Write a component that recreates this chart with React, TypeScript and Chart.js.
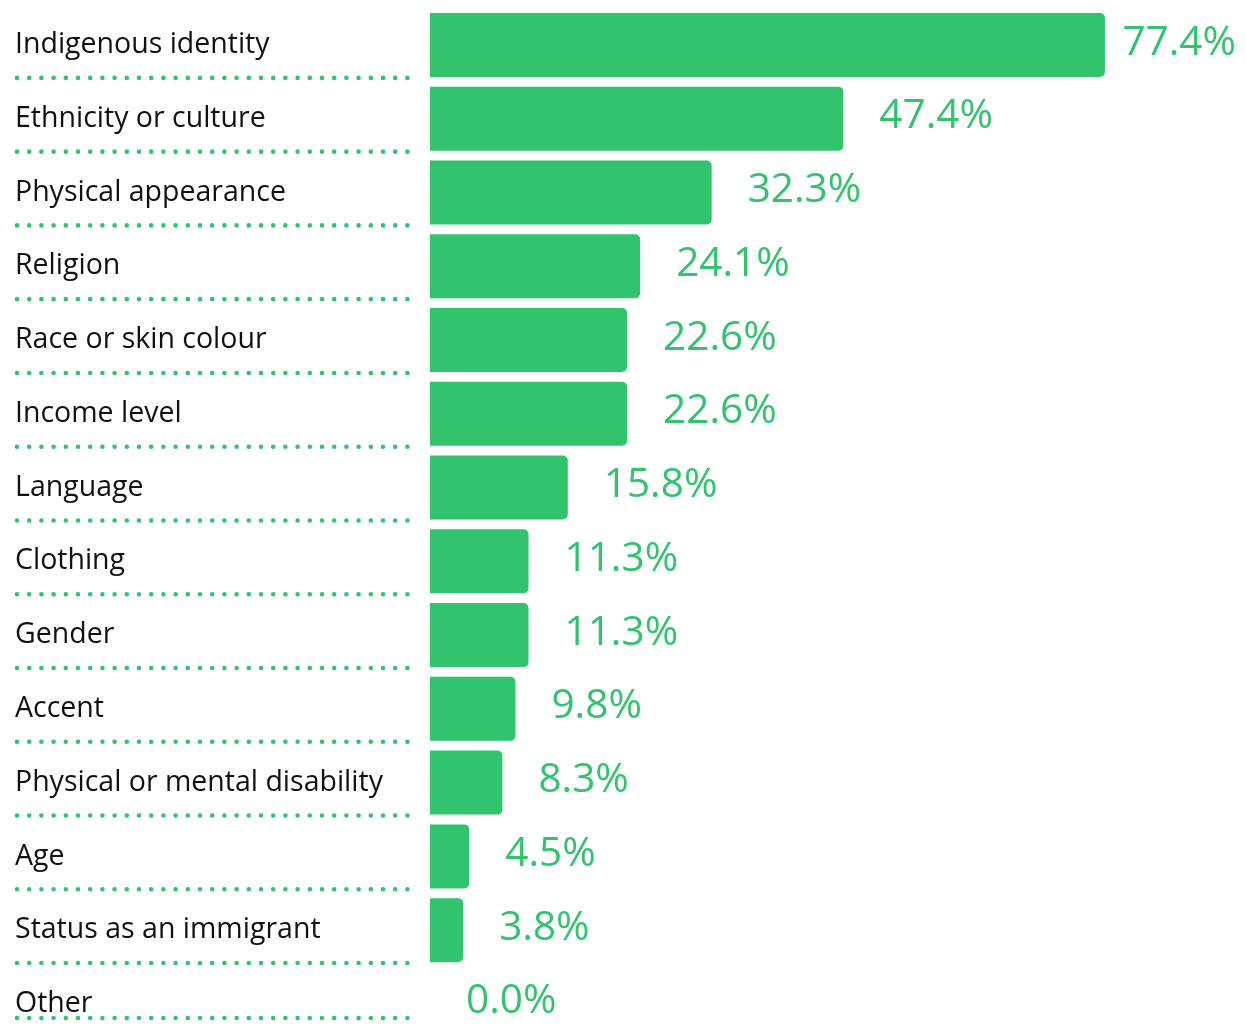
import React, { useEffect, useRef } from "react";
import { Chart, registerables } from "chart.js";

Chart.register(...registerables);

const categories = [
  "Indigenous identity",
  "Ethnicity or culture",
  "Physical appearance",
  "Religion",
  "Race or skin colour",
  "Income level",
  "Language",
  "Clothing",
  "Gender",
  "Accent",
  "Physical or mental disability",
  "Age",
  "Status as an immigrant",
  "Other",
];

const percentages = [77.4, 47.4, 32.3, 24.1, 22.6, 22.6, 15.8, 11.3, 11.3, 9.8, 8.3, 4.5, 3.8, 0.0];

const GREEN = "#32c36f";
const FONT = "'Open Sans', 'Noto Sans', sans-serif";

const dottedLines = {
  id: "dottedLines",
  afterDraw(chart: any) {
    const { ctx } = chart;
    const y = chart.scales.y;
    const half = (y.getPixelForValue(1) - y.getPixelForValue(0)) / 2;
    ctx.save();
    ctx.strokeStyle = GREEN;
    ctx.lineWidth = 4.6;
    ctx.lineCap = "round";
    ctx.setLineDash([0, 12.2]);
    for (let i = 0; i < categories.length; i++) {
      let py = y.getPixelForValue(i) + half - 4;
      py = Math.min(py, chart.height - 3);
      ctx.beginPath();
      ctx.moveTo(9, py);
      ctx.lineTo(400, py);
      ctx.stroke();
    }
    ctx.restore();
  },
};

const valueLabels = {
  id: "valueLabels",
  afterDatasetsDraw(chart: any) {
    const { ctx, chartArea } = chart;
    const meta = chart.getDatasetMeta(0);
    ctx.save();
    ctx.font = `40.5px ${FONT}`;
    ctx.fillStyle = GREEN;
    ctx.textAlign = "left";
    ctx.textBaseline = "middle";
    meta.data.forEach((bar: any, i: number) => {
      const text = percentages[i].toFixed(1) + "%";
      const w = ctx.measureText(text).width;
      const x = Math.min(bar.x + 36, chartArea.right - w - 2);
      ctx.fillText(text, x, bar.y - 2);
    });
    ctx.restore();
  },
};

export default function App() {
  const ref = useRef<HTMLCanvasElement>(null);

  useEffect(() => {
    if (!ref.current) return;
    const chart = new Chart(ref.current, {
      type: "bar",
      data: {
        labels: categories,
        datasets: [
          {
            data: percentages,
            backgroundColor: GREEN,
            borderRadius: 5,
            borderSkipped: "start",
            barThickness: 64,
            inflateAmount: 0,
            clip: false as any,
          } as any,
        ],
      },
      options: {
        indexAxis: "y",
        animation: false,
        responsive: false,
        layout: { padding: { left: 7, top: 37, bottom: 6, right: 0 } },
        plugins: {
          legend: { display: false },
          tooltip: { enabled: false },
        },
        scales: {
          x: {
            display: false,
            min: 0,
            max: 92.66,
          },
          y: {
            offset: false,
            grid: { display: false },
            border: { display: false },
            afterFit(scale: any) {
              scale.width = 415;
            },
            ticks: {
              crossAlign: "far",
              color: "#111111",
              font: { family: FONT, size: 28.5 },
              autoSkip: false,
              padding: 0,
            },
          },
        },
      },
      plugins: [dottedLines, valueLabels],
    });
    return () => chart.destroy();
  }, []);

  return (
    <canvas ref={ref} width={1230} height={1013} style={{ display: "block" }} />
  );
}
